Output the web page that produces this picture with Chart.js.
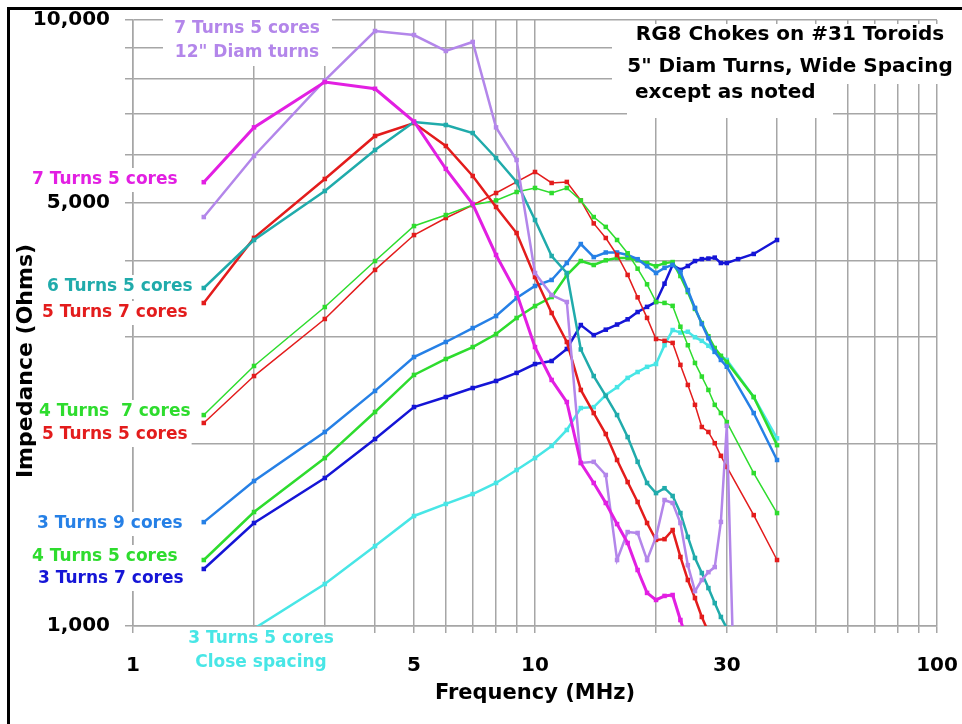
<!DOCTYPE html>
<html>
<head>
<meta charset="utf-8">
<title>RG8 Chokes on #31 Toroids</title>
<script src="https://cdn.jsdelivr.net/npm/chart.js@4.4.0/dist/chart.umd.min.js"></script>
<style>
  html, body { margin: 0; padding: 0; background: #fff; }
  #wrap { width: 962px; height: 724px; }
</style>
</head>
<body>
<div id="wrap"><canvas id="chokeChart" width="962" height="724"></canvas></div>
<script>
//Frequencies of the measured points (MHz)
const freqs = [1.5, 2, 3, 4, 5, 6, 7, 8, 9, 10, 11, 12, 13, 14, 15, 16, 17, 18, 19, 20, 21, 22, 23, 24, 25, 26, 27, 28, 29, 30];
const freqsTo31 = [...freqs, 31];
const freqsTo40 = [...freqs, 35, 40];
const freqsDarkBlue = [...freqs, 32, 35, 40];

//Impedance values (Ohms)
const t7c5 = [5400, 6650, 7900, 7700, 6800, 5680, 4970, 4095, 3543, 2886, 2547, 2342, 1858, 1722, 1596, 1473, 1371, 1237, 1134, 1104, 1121, 1125, 1023, 940];
const t7c5big = [4730, 5965, 7950, 9590, 9445, 8890, 9200, 6650, 5875, 3824, 3517, 3425, 1858, 1866, 1775, 1285, 1429, 1424, 1285, 1403, 1614, 1596, 1479, 1260, 1142, 1191, 1227, 1251, 1485, 2140, 980];
const t6c5 = [3612, 4335, 5222, 6103, 6785, 6710, 6509, 5920, 5405, 4677, 4079, 3824, 2860, 2585, 2397, 2229, 2050, 1866, 1722, 1657, 1688, 1639, 1536, 1403, 1295, 1223, 1155, 1091, 1035, 992, 950];
const t5c7 = [3412, 4370, 5466, 6436, 6760, 6196, 5528, 4914, 4451, 3766, 3285, 2942, 2452, 2246, 2074, 1879, 1728, 1602, 1479, 1387, 1391, 1440, 1300, 1191, 1112, 1035, 977];
const t4c7 = [2229, 2686, 3360, 4002, 4571, 4766, 4951, 5038, 5202, 5282, 5182, 5282, 5038, 4730, 4556, 4335, 4122, 3887, 3663, 3426, 3413, 3375, 3118, 2906, 2717, 2580, 2452, 2317, 2246, 2170, 1788, 1536];
const t5c5 = [2163, 2585, 3211, 3869, 4417, 4713, 4950, 5182, 5405, 5613, 5384, 5405, 5038, 4617, 4368, 4095, 3796, 3486, 3224, 2976, 2955, 2932, 2697, 2499, 2317, 2130, 2090, 2003, 1909, 1830, 1524, 1285];
const t3c9 = [1484, 1735, 2090, 2443, 2779, 2942, 3102, 3247, 3477, 3640, 3724, 3972, 4269, 4062, 4134, 4134, 4095, 4030, 3925, 3824, 3899, 3944, 3839, 3584, 3349, 3150, 2985, 2834, 2748, 2678, 2246, 1879];
const t4c5 = [1285, 1542, 1893, 2255, 2596, 2758, 2886, 3032, 3223, 3373, 3490, 3795, 4002, 3942, 4013, 4049, 4049, 4013, 3970, 3924, 3970, 3986, 3780, 3557, 3336, 3162, 3007, 2876, 2791, 2728, 2387, 1988];
const t3c7 = [1242, 1479, 1755, 2035, 2298, 2387, 2470, 2537, 2616, 2706, 2737, 2865, 3138, 3020, 3083, 3144, 3207, 3297, 3362, 3426, 3672, 3944, 3869, 3927, 4002, 4031, 4040, 4054, 3972, 3972, 4031, 4111, 4335];
const t3c5close = [null, 990, 1173, 1355, 1519, 1590, 1651, 1722, 1809, 1893, 1982, 2106, 2289, 2297, 2405, 2478, 2567, 2625, 2677, 2706, 2907, 3079, 3049, 3059, 2996, 2955, 2900, 2834, 2788, 2748, 2387, 2040];

//Eixos
const yTicks = [1000, 2000, 3000, 4000, 5000, 6000, 7000, 8000, 9000, 10000];
const yTickLabels = [1000, 5000, 10000];
const xTicks = [1, 2, 3, 4, 5, 6, 7, 8, 9, 10, 20, 30, 40, 50, 60, 70, 80, 90, 100];
const xTickLabels = [1, 5, 10, 30, 100];

const cores = {
    magenta: '#e21fe2',
    lavender: '#b386ea',
    teal: '#20abab',
    red: '#e31c1c',
    green: '#2edc2e',
    blue: '#2680e6',
    darkBlue: '#1515d6',
    cyan: '#48e6e6'
};

const FONT = '"DejaVu Sans", sans-serif';

function pts(fs, vals) {
    return vals.map((v, i) => ({ x: fs[i], y: v }));
}

function serie(label, fs, vals, color, width) {
    return {
        label: label,
        data: pts(fs, vals),
        borderColor: color,
        backgroundColor: color,
        borderWidth: width,
        pointStyle: 'rect',
        pointRadius: 3.2,
        pointBorderWidth: 0,
        tension: 0
    };
}

const datasets = [
    serie('7 Turns 5 cores', freqs, t7c5, cores.magenta, 3),
    serie('7 Turns 5 cores, 12" Diam turns', freqsTo31, t7c5big, cores.lavender, 2.5),
    serie('6 Turns 5 cores', freqsTo31, t6c5, cores.teal, 2.5),
    serie('5 Turns 7 cores', freqs, t5c7, cores.red, 2.5),
    serie('4 Turns 7 cores', freqsTo40, t4c7, cores.green, 1.5),
    serie('5 Turns 5 cores', freqsTo40, t5c5, cores.red, 1.5),
    serie('3 Turns 9 cores', freqsTo40, t3c9, cores.blue, 2.5),
    serie('4 Turns 5 cores', freqsTo40, t4c5, cores.green, 2.5),
    serie('3 Turns 7 cores', freqsDarkBlue, t3c7, cores.darkBlue, 2.5),
    serie('3 Turns 5 cores, Close spacing', freqsTo40, t3c5close, cores.cyan, 2.5)
];

//Rotulos das curvas (desenhados com fundo branco por cima da grade)
const rotulos = [
    { lines: ['7 Turns 5 cores'], color: cores.magenta, x: 32, y: 180, align: 'left' },
    { lines: ['6 Turns 5 cores'], color: cores.teal, x: 47, y: 287, align: 'left' },
    { lines: ['5 Turns 7 cores'], color: cores.red, x: 42, y: 313, align: 'left' },
    { lines: ['4 Turns  7 cores'], color: cores.green, x: 39, y: 412, align: 'left' },
    { lines: ['5 Turns 5 cores'], color: cores.red, x: 42, y: 435, align: 'left' },
    { lines: ['3 Turns 9 cores'], color: cores.blue, x: 37, y: 524, align: 'left' },
    { lines: ['4 Turns 5 cores'], color: cores.green, x: 32, y: 557, align: 'left' },
    { lines: ['3 Turns 7 cores'], color: cores.darkBlue, x: 38, y: 579, align: 'left' },
    { lines: ['3 Turns 5 cores', 'Close spacing'], color: cores.cyan, x: 261, y: 639, align: 'center' },
    { lines: ['7 Turns 5 cores', '12" Diam turns'], color: cores.lavender, x: 247, y: 29, align: 'center' }
];

const rotulosPlugin = {
    id: 'rotulos',
    beforeDatasetsDraw(chart) {
        const ctx = chart.ctx;
        ctx.save();
        //caixas brancas do titulo e do rotulo lilas
        ctx.fillStyle = '#fff';
        ctx.fillRect(612, 24, 350, 60);
        ctx.fillRect(627, 84, 206, 34);
        ctx.fillRect(163, 12, 169, 54);

        ctx.font = 'bold 17px ' + FONT;
        ctx.textBaseline = 'middle';
        rotulos.forEach(r => {
            r.lines.forEach((txt, i) => {
                const w = ctx.measureText(txt).width;
                const y = r.y + i * 24;
                const x0 = r.align === 'center' ? r.x - w / 2 : r.x;
                ctx.fillStyle = '#fff';
                ctx.fillRect(x0 - 4, y - 12, w + 8, 24);
            });
        });
        rotulos.forEach(r => {
            ctx.fillStyle = r.color;
            ctx.textAlign = r.align;
            r.lines.forEach((txt, i) => ctx.fillText(txt, r.x, r.y + i * 24));
        });

        //titulo
        ctx.fillStyle = '#000';
        ctx.font = 'bold 20px ' + FONT;
        ctx.textAlign = 'center';
        ctx.fillText('RG8 Chokes on #31 Toroids', 790, 35);
        ctx.fillText('5" Diam Turns, Wide Spacing', 790, 67);
        ctx.textAlign = 'left';
        ctx.fillText('except as noted', 635, 93);

        //titulo do eixo y
        ctx.font = 'bold 22px ' + FONT;
        ctx.translate(26, 361);
        ctx.rotate(-Math.PI / 2);
        ctx.textAlign = 'center';
        ctx.fillText('Impedance (Ohms)', 0, 0);
        ctx.restore();
    },
    afterDraw(chart) {
        //moldura preta
        const ctx = chart.ctx;
        ctx.save();
        ctx.fillStyle = '#000';
        ctx.fillRect(7, 7, 955, 3);
        ctx.fillRect(7, 7, 3, 717);
        ctx.restore();
    }
};

const gridColor = '#a6a6a6';

new Chart(document.getElementById('chokeChart'), {
    type: 'line',
    data: { datasets: datasets },
    options: {
        responsive: false,
        animation: false,
        layout: { padding: { left: 0, right: 25, top: 20, bottom: 0 } },
        plugins: {
            legend: { display: false },
            tooltip: { enabled: false }
        },
        scales: {
            x: {
                type: 'logarithmic',
                min: 1,
                max: 100,
                afterBuildTicks: scale => { scale.ticks = xTicks.map(v => ({ value: v })); },
                afterFit: scale => {
                    scale.height = 98;
                    scale.paddingLeft = 0;
                    scale.paddingRight = 0;
                },
                grid: { color: gridColor, lineWidth: 1.5, tickLength: 7 },
                border: { color: gridColor, width: 1.5 },
                ticks: {
                    autoSkip: false,
                    maxRotation: 0,
                    minRotation: 0,
                    padding: 21,
                    color: '#000',
                    font: { family: FONT, size: 20, weight: 'bold' },
                    callback: v => xTickLabels.includes(v) ? String(v) : ''
                },
                title: {
                    display: true,
                    text: 'Frequency (MHz)',
                    color: '#000',
                    font: { family: FONT, size: 21, weight: 'bold' },
                    padding: { top: 0, bottom: 18 }
                }
            },
            y: {
                type: 'logarithmic',
                min: 1000,
                max: 10000,
                afterBuildTicks: scale => { scale.ticks = yTicks.map(v => ({ value: v })); },
                afterFit: scale => {
                    scale.width = 133;
                    scale.paddingTop = 0;
                    scale.paddingBottom = 0;
                },
                grid: { color: gridColor, lineWidth: 1.5, tickLength: 8 },
                border: { color: gridColor, width: 1.5 },
                ticks: {
                    autoSkip: false,
                    padding: 15,
                    color: '#000',
                    font: { family: FONT, size: 20, weight: 'bold' },
                    callback: v => yTickLabels.includes(v) ? v.toLocaleString('en-US') : ''
                }
            }
        }
    },
    plugins: [rotulosPlugin]
});
</script>
</body>
</html>
